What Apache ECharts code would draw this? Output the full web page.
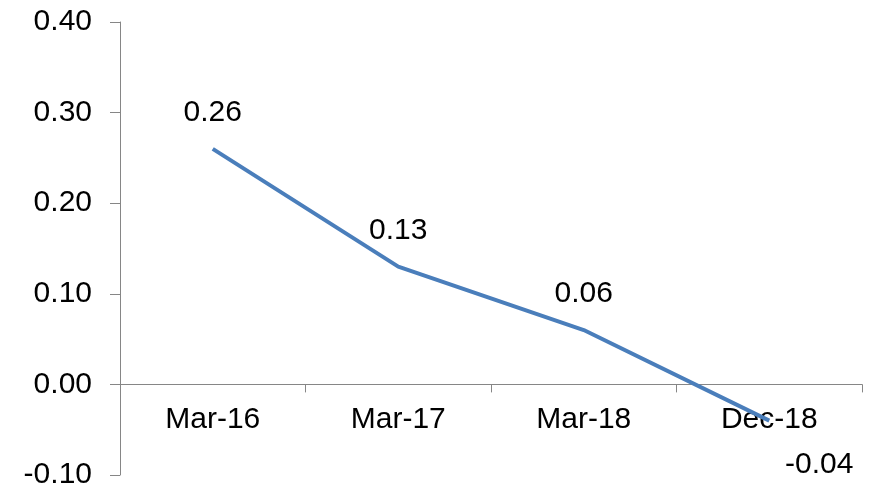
<!DOCTYPE html>
<html>
<head>
<meta charset="utf-8">
<script src="https://cdn.jsdelivr.net/npm/echarts@6/dist/echarts.min.js"></script>
<style>
html,body{margin:0;padding:0;background:#fff;}
#c{width:871px;height:489px;}
</style>
</head>
<body>
<div id="c"></div>
<script>
var categories = ['Mar-16', 'Mar-17', 'Mar-18', 'Dec-18'];
var values = [0.26, 0.13, 0.06, -0.04];
var yMin = -0.1, yMax = 0.4, yStep = 0.1;

var chart = echarts.init(document.getElementById('c'), null, {renderer: 'canvas'});
var font = 'Liberation Sans, Arial, sans-serif';
var axisColor = '#868686';

var gridTop = 22, gridBottom = 14, H = 489;
var gridH = H - gridTop - gridBottom;
var zeroOffset = -gridH * (0 - yMin) / (yMax - yMin);

var seriesData = values.map(function (v) {
  var d = {value: v};
  if (v < 0) {
    d.label = {position: 'bottom', distance: 28, offset: [50, 0]};
  }
  return d;
});

chart.setOption({
  animation: false,
  backgroundColor: '#ffffff',
  grid: {left: 120, right: 9, top: gridTop, bottom: gridBottom, containLabel: false, outerBoundsMode: 'none'},
  xAxis: {
    type: 'category',
    data: categories,
    boundaryGap: true,
    offset: zeroOffset,
    axisLine: {onZero: false, lineStyle: {color: axisColor, width: 1}},
    axisTick: {show: true, inside: false, length: 8, alignWithLabel: false, lineStyle: {color: axisColor}},
    axisLabel: {color: '#000', fontSize: 30, fontFamily: font, margin: 20, interval: 0}
  },
  yAxis: {
    type: 'value',
    min: yMin,
    max: yMax,
    interval: yStep,
    splitLine: {show: false},
    axisLine: {show: true, lineStyle: {color: axisColor, width: 1}},
    axisTick: {show: true, length: 10, lineStyle: {color: axisColor}},
    axisLabel: {
      color: '#000', fontSize: 30, fontFamily: font, margin: 28,
      formatter: function (v) { return v.toFixed(2); }
    }
  },
  series: [{
    type: 'line',
    data: seriesData,
    showSymbol: true,
    symbol: 'circle',
    symbolSize: 2,
    lineStyle: {color: '#4a7ebb', width: 4},
    itemStyle: {color: 'rgba(0,0,0,0)', borderWidth: 0},
    label: {
      show: true,
      position: 'top',
      distance: 20,
      color: '#000',
      fontSize: 30,
      fontFamily: font,
      formatter: function (p) { return p.value.toFixed(2); }
    }
  }]
});
</script>
</body>
</html>
